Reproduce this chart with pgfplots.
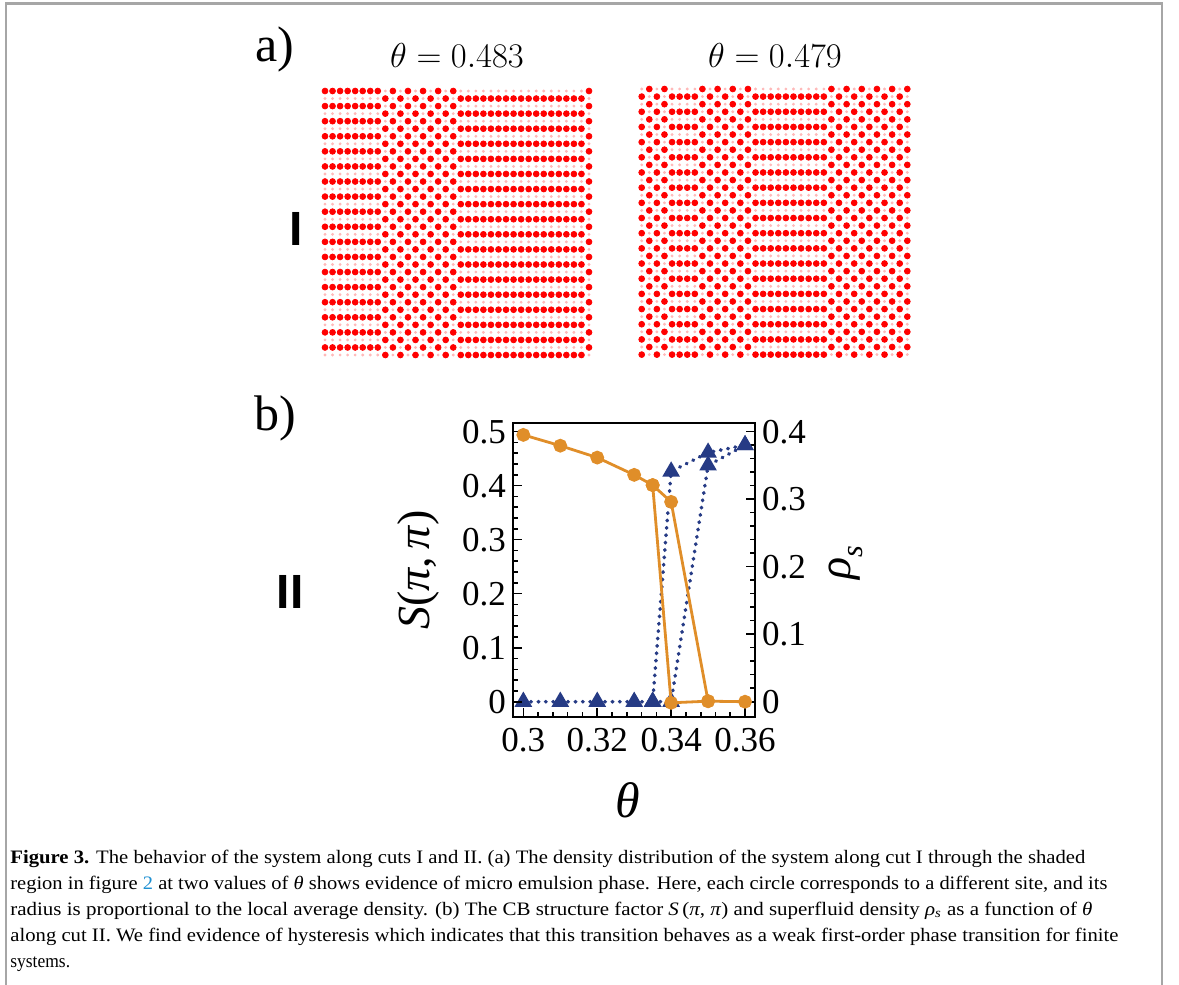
\documentclass[border=0pt]{standalone}
\usepackage{fontspec}
\setmainfont{Liberation Serif}
\newfontfamily\labsans{Liberation Sans}
\usepackage{graphicx}
\usepackage{pgfplots}
\usepackage{pgfplotstable}
\pgfplotsset{compat=1.18}

\definecolor{sorange}{RGB}{224,142,41}
\definecolor{rblue}{RGB}{38,59,133}
\definecolor{linkblue}{RGB}{30,144,210}
\definecolor{faint}{RGB}{255,185,185}
\definecolor{sitered}{RGB}{255,0,0}

% site occupation (1 = large local density, 0 = small), rows top to bottom, theta = 0.483
\pgfplotstableread[header=false]{
1 1 1 1 1 1 1 1 0 1 0 1 0 1 0 1 0 1 0 0 0 0 0 0 0 0 0 0 0 0 0 0 0 0 0 1
0 0 0 0 0 0 0 0 1 0 1 0 1 0 1 0 1 0 1 1 1 1 1 1 1 1 1 1 1 1 1 1 1 1 1 0
1 1 1 1 1 1 1 1 0 1 0 1 0 1 0 1 0 1 0 0 0 0 0 0 0 0 0 0 0 0 0 0 0 0 0 1
0 0 0 0 0 0 0 0 1 0 1 0 1 0 1 0 1 0 1 1 1 1 1 1 1 1 1 1 1 1 1 1 1 1 1 0
1 1 1 1 1 1 1 1 0 1 0 1 0 1 0 1 0 1 0 0 0 0 0 0 0 0 0 0 0 0 0 0 0 0 0 1
0 0 0 0 0 0 0 0 1 0 1 0 1 0 1 0 1 0 1 1 1 1 1 1 1 1 1 1 1 1 1 1 1 1 1 0
1 1 1 1 1 1 1 1 0 1 0 1 0 1 0 1 0 1 0 0 0 0 0 0 0 0 0 0 0 0 0 0 0 0 0 1
0 0 0 0 0 0 0 0 1 0 1 0 1 0 1 0 1 0 1 1 1 1 1 1 1 1 1 1 1 1 1 1 1 1 1 0
1 1 1 1 1 1 1 1 0 1 0 1 0 1 0 1 0 1 0 0 0 0 0 0 0 0 0 0 0 0 0 0 0 0 0 1
0 0 0 0 0 0 0 0 1 0 1 0 1 0 1 0 1 0 1 1 1 1 1 1 1 1 1 1 1 1 1 1 1 1 1 0
1 1 1 1 1 1 1 1 0 1 0 1 0 1 0 1 0 1 0 0 0 0 0 0 0 0 0 0 0 0 0 0 0 0 0 1
0 0 0 0 0 0 0 0 1 0 1 0 1 0 1 0 1 0 1 1 1 1 1 1 1 1 1 1 1 1 1 1 1 1 1 0
1 1 1 1 1 1 1 1 0 1 0 1 0 1 0 1 0 1 0 0 0 0 0 0 0 0 0 0 0 0 0 0 0 0 0 1
0 0 0 0 0 0 0 0 1 0 1 0 1 0 1 0 1 0 1 1 1 1 1 1 1 1 1 1 1 1 1 1 1 1 1 0
1 1 1 1 1 1 1 1 0 1 0 1 0 1 0 1 0 1 0 0 0 0 0 0 0 0 0 0 0 0 0 0 0 0 0 1
0 0 0 0 0 0 0 0 1 0 1 0 1 0 1 0 1 0 1 1 1 1 1 1 1 1 1 1 1 1 1 1 1 1 1 0
1 1 1 1 1 1 1 1 0 1 0 1 0 1 0 1 0 1 0 0 0 0 0 0 0 0 0 0 0 0 0 0 0 0 0 1
0 0 0 0 0 0 0 0 1 0 1 0 1 0 1 0 1 0 1 1 1 1 1 1 1 1 1 1 1 1 1 1 1 1 1 0
1 1 1 1 1 1 1 1 0 1 0 1 0 1 0 1 0 1 0 0 0 0 0 0 0 0 0 0 0 0 0 0 0 0 0 1
0 0 0 0 0 0 0 0 1 0 1 0 1 0 1 0 1 0 1 1 1 1 1 1 1 1 1 1 1 1 1 1 1 1 1 0
1 1 1 1 1 1 1 1 0 1 0 1 0 1 0 1 0 1 0 0 0 0 0 0 0 0 0 0 0 0 0 0 0 0 0 1
0 0 0 0 0 0 0 0 1 0 1 0 1 0 1 0 1 0 1 1 1 1 1 1 1 1 1 1 1 1 1 1 1 1 1 0
1 1 1 1 1 1 1 1 0 1 0 1 0 1 0 1 0 1 0 0 0 0 0 0 0 0 0 0 0 0 0 0 0 0 0 1
0 0 0 0 0 0 0 0 1 0 1 0 1 0 1 0 1 0 1 1 1 1 1 1 1 1 1 1 1 1 1 1 1 1 1 0
1 1 1 1 1 1 1 1 0 1 0 1 0 1 0 1 0 1 0 0 0 0 0 0 0 0 0 0 0 0 0 0 0 0 0 1
0 0 0 0 0 0 0 0 1 0 1 0 1 0 1 0 1 0 1 1 1 1 1 1 1 1 1 1 1 1 1 1 1 1 1 0
1 1 1 1 1 1 1 1 0 1 0 1 0 1 0 1 0 1 0 0 0 0 0 0 0 0 0 0 0 0 0 0 0 0 0 1
0 0 0 0 0 0 0 0 1 0 1 0 1 0 1 0 1 0 1 1 1 1 1 1 1 1 1 1 1 1 1 1 1 1 1 0
1 1 1 1 1 1 1 1 0 1 0 1 0 1 0 1 0 1 0 0 0 0 0 0 0 0 0 0 0 0 0 0 0 0 0 1
0 0 0 0 0 0 0 0 1 0 1 0 1 0 1 0 1 0 1 1 1 1 1 1 1 1 1 1 1 1 1 1 1 1 1 0
1 1 1 1 1 1 1 1 0 1 0 1 0 1 0 1 0 1 0 0 0 0 0 0 0 0 0 0 0 0 0 0 0 0 0 1
0 0 0 0 0 0 0 0 1 0 1 0 1 0 1 0 1 0 1 1 1 1 1 1 1 1 1 1 1 1 1 1 1 1 1 0
1 1 1 1 1 1 1 1 0 1 0 1 0 1 0 1 0 1 0 0 0 0 0 0 0 0 0 0 0 0 0 0 0 0 0 1
0 0 0 0 0 0 0 0 1 0 1 0 1 0 1 0 1 0 1 1 1 1 1 1 1 1 1 1 1 1 1 1 1 1 1 0
1 1 1 1 1 1 1 1 0 1 0 1 0 1 0 1 0 1 0 0 0 0 0 0 0 0 0 0 0 0 0 0 0 0 0 1
0 0 0 0 0 0 0 0 1 0 1 0 1 0 1 0 1 0 1 1 1 1 1 1 1 1 1 1 1 1 1 1 1 1 1 0
}\gridL

% theta = 0.479
\pgfplotstableread[header=false]{
0 1 0 1 0 0 0 0 1 0 1 0 1 0 1 0 0 0 0 0 0 0 0 0 0 1 0 1 0 1 0 1 0 1 0 1
1 0 1 0 1 1 1 1 0 1 0 1 0 1 0 1 1 1 1 1 1 1 1 1 1 0 1 0 1 0 1 0 1 0 1 0
0 1 0 1 0 0 0 0 1 0 1 0 1 0 1 0 0 0 0 0 0 0 0 0 0 1 0 1 0 1 0 1 0 1 0 1
1 0 1 0 1 1 1 1 0 1 0 1 0 1 0 1 1 1 1 1 1 1 1 1 1 0 1 0 1 0 1 0 1 0 1 0
0 1 0 1 0 0 0 0 1 0 1 0 1 0 1 0 0 0 0 0 0 0 0 0 0 1 0 1 0 1 0 1 0 1 0 1
1 0 1 0 1 1 1 1 0 1 0 1 0 1 0 1 1 1 1 1 1 1 1 1 1 0 1 0 1 0 1 0 1 0 1 0
0 1 0 1 0 0 0 0 1 0 1 0 1 0 1 0 0 0 0 0 0 0 0 0 0 1 0 1 0 1 0 1 0 1 0 1
1 0 1 0 1 1 1 1 0 1 0 1 0 1 0 1 1 1 1 1 1 1 1 1 1 0 1 0 1 0 1 0 1 0 1 0
0 1 0 1 0 0 0 0 1 0 1 0 1 0 1 0 0 0 0 0 0 0 0 0 0 1 0 1 0 1 0 1 0 1 0 1
1 0 1 0 1 1 1 1 0 1 0 1 0 1 0 1 1 1 1 1 1 1 1 1 1 0 1 0 1 0 1 0 1 0 1 0
0 1 0 1 0 0 0 0 1 0 1 0 1 0 1 0 0 0 0 0 0 0 0 0 0 1 0 1 0 1 0 1 0 1 0 1
1 0 1 0 1 1 1 1 0 1 0 1 0 1 0 1 1 1 1 1 1 1 1 1 1 0 1 0 1 0 1 0 1 0 1 0
0 1 0 1 0 0 0 0 1 0 1 0 1 0 1 0 0 0 0 0 0 0 0 0 0 1 0 1 0 1 0 1 0 1 0 1
1 0 1 0 1 1 1 1 0 1 0 1 0 1 0 1 1 1 1 1 1 1 1 1 1 0 1 0 1 0 1 0 1 0 1 0
0 1 0 1 0 0 0 0 1 0 1 0 1 0 1 0 0 0 0 0 0 0 0 0 0 1 0 1 0 1 0 1 0 1 0 1
1 0 1 0 1 1 1 1 0 1 0 1 0 1 0 1 1 1 1 1 1 1 1 1 1 0 1 0 1 0 1 0 1 0 1 0
0 1 0 1 0 0 0 0 1 0 1 0 1 0 1 0 0 0 0 0 0 0 0 0 0 1 0 1 0 1 0 1 0 1 0 1
1 0 1 0 1 1 1 1 0 1 0 1 0 1 0 1 1 1 1 1 1 1 1 1 1 0 1 0 1 0 1 0 1 0 1 0
0 1 0 1 0 0 0 0 1 0 1 0 1 0 1 0 0 0 0 0 0 0 0 0 0 1 0 1 0 1 0 1 0 1 0 1
1 0 1 0 1 1 1 1 0 1 0 1 0 1 0 1 1 1 1 1 1 1 1 1 1 0 1 0 1 0 1 0 1 0 1 0
0 1 0 1 0 0 0 0 1 0 1 0 1 0 1 0 0 0 0 0 0 0 0 0 0 1 0 1 0 1 0 1 0 1 0 1
1 0 1 0 1 1 1 1 0 1 0 1 0 1 0 1 1 1 1 1 1 1 1 1 1 0 1 0 1 0 1 0 1 0 1 0
0 1 0 1 0 0 0 0 1 0 1 0 1 0 1 0 0 0 0 0 0 0 0 0 0 1 0 1 0 1 0 1 0 1 0 1
1 0 1 0 1 1 1 1 0 1 0 1 0 1 0 1 1 1 1 1 1 1 1 1 1 0 1 0 1 0 1 0 1 0 1 0
0 1 0 1 0 0 0 0 1 0 1 0 1 0 1 0 0 0 0 0 0 0 0 0 0 1 0 1 0 1 0 1 0 1 0 1
1 0 1 0 1 1 1 1 0 1 0 1 0 1 0 1 1 1 1 1 1 1 1 1 1 0 1 0 1 0 1 0 1 0 1 0
0 1 0 1 0 0 0 0 1 0 1 0 1 0 1 0 0 0 0 0 0 0 0 0 0 1 0 1 0 1 0 1 0 1 0 1
1 0 1 0 1 1 1 1 0 1 0 1 0 1 0 1 1 1 1 1 1 1 1 1 1 0 1 0 1 0 1 0 1 0 1 0
0 1 0 1 0 0 0 0 1 0 1 0 1 0 1 0 0 0 0 0 0 0 0 0 0 1 0 1 0 1 0 1 0 1 0 1
1 0 1 0 1 1 1 1 0 1 0 1 0 1 0 1 1 1 1 1 1 1 1 1 1 0 1 0 1 0 1 0 1 0 1 0
0 1 0 1 0 0 0 0 1 0 1 0 1 0 1 0 0 0 0 0 0 0 0 0 0 1 0 1 0 1 0 1 0 1 0 1
1 0 1 0 1 1 1 1 0 1 0 1 0 1 0 1 1 1 1 1 1 1 1 1 1 0 1 0 1 0 1 0 1 0 1 0
0 1 0 1 0 0 0 0 1 0 1 0 1 0 1 0 0 0 0 0 0 0 0 0 0 1 0 1 0 1 0 1 0 1 0 1
1 0 1 0 1 1 1 1 0 1 0 1 0 1 0 1 1 1 1 1 1 1 1 1 1 0 1 0 1 0 1 0 1 0 1 0
0 1 0 1 0 0 0 0 1 0 1 0 1 0 1 0 0 0 0 0 0 0 0 0 0 1 0 1 0 1 0 1 0 1 0 1
1 0 1 0 1 1 1 1 0 1 0 1 0 1 0 1 1 1 1 1 1 1 1 1 1 0 1 0 1 0 1 0 1 0 1 0
}\gridR

\pgfplotsset{
  gridax/.style={scale only axis, anchor=south west, hide axis, clip=false,
    xmin=0, xmax=35, ymin=-35, ymax=0},
  site/.style={scatter, only marks, point meta=explicit symbolic,
    scatter/classes={
      1={mark=*, mark size=1.45pt, sitered},
      0={mark=*, mark size=0.5pt, faint}}},
  mainax/.style={scale only axis, anchor=south west, width=121pt, height=147pt,
    at={(256.5pt,-358.5pt)}, xmin=0.2972, xmax=0.3627,
    axis line style={line width=1.2pt},
    major tick length=4.5pt, minor tick length=2.5pt,
    every tick/.style={black, line width=0.8pt},
    tick label style={font=\fontsize{17.5}{20}\selectfont},
    /pgf/number format/assume math mode=true,
    /pgf/number format/fixed, clip=false},
  bluedot/.style={rblue, line width=1.8pt, dash pattern=on 0.3pt off 3.4pt, line cap=round,
    mark=triangle*, mark size=3.3pt, mark options={solid, fill=rblue, draw=rblue}},
  orangeline/.style={sorange, line width=1.4pt, mark=*, mark size=2.75pt,
    mark options={fill=sorange, draw=sorange}},
}

\begin{document}
\begin{tikzpicture}
\useasboundingbox (0,0) rectangle (589.5pt,-492.5pt);

% --- density lattices ---
\begin{axis}[gridax, width=132pt, height=132pt, at={(162.5pt,-177.5pt)}]
\pgfplotsinvokeforeach{0,...,35}{
  \addplot[site] table[x expr=#1, y expr=-\coordindex, meta index=#1] {\gridL};
}
\end{axis}
\begin{axis}[gridax, width=132.8pt, height=132.8pt, at={(320.85pt,-177.3pt)}]
\pgfplotsinvokeforeach{0,...,35}{
  \addplot[site] table[x expr=#1, y expr=-\coordindex, meta index=#1] {\gridR};
}
\end{axis}

% --- panel b: right scale (rho_s) ---
\begin{axis}[mainax, ymin=-0.02267, ymax=0.4128,
  axis x line=none, axis y line*=right,
  ytick={0,0.1,0.2,0.3,0.4}, minor y tick num=4, ytick pos=right]
\addplot[bluedot]
  coordinates {(0.30,0)(0.31,0)(0.32,0)(0.33,0)(0.335,0)(0.34,0.341)(0.35,0.369)(0.36,0.380)};
\addplot[bluedot]
  coordinates {(0.335,0)(0.34,0)(0.35,0.350)(0.36,0.380)};
\end{axis}

% --- panel b: left scale S(pi,pi) ---
\begin{axis}[mainax, ymin=-0.0283, ymax=0.516,
  xtick={0.3,0.32,0.34,0.36}, minor x tick num=4, xtick pos=left,
  xticklabel style={yshift=-2pt},
  ytick={0,0.1,0.2,0.3,0.4,0.5}, minor y tick num=4, ytick pos=left]
\addplot[orangeline]
  coordinates {(0.30,0.494)(0.31,0.474)(0.32,0.452)(0.33,0.420)(0.335,0.401)(0.34,0.370)(0.35,0.001)(0.36,0.0)};
\addplot[orangeline]
  coordinates {(0.335,0.401)(0.34,-0.002)(0.35,0.001)};
\end{axis}

% --- text and frame, in pixel units ---
\begin{scope}[x=0.5pt, y=-0.5pt]
\draw[gray!70, line width=1.2pt] (6,985) -- (6,3.5) -- (1162,3.5) -- (1162,985);
\node at (275,49) {\fontsize{25}{30}\selectfont a)};
\node at (275,418) {\fontsize{25}{30}\selectfont b)};
\node at (457,55) {\fontsize{18}{20}\selectfont $\theta = 0.483$};
\node at (775,55) {\fontsize{18}{20}\selectfont $\theta = 0.479$};
\node at (296,229) {\labsans\bfseries\fontsize{24}{28}\selectfont I};
\node at (290,592) {\labsans\bfseries\fontsize{24}{28}\selectfont II};
\node[rotate=90] at (418,570) {\fontsize{23}{26}\selectfont \textit{S}(\textit{π},\,\textit{π})};
\node[rotate=90] at (846,563) {\fontsize{23}{26}\selectfont \textit{ρ}\raisebox{-0.25em}{\fontsize{15}{16}\selectfont\textit{s}}};
\node at (628,800) {\fontsize{25}{28}\selectfont \textit{θ}};

\node[anchor=base west, inner sep=0] at (10,863) {\resizebox{537.5pt}{\height}{\fontsize{9.5}{11}\selectfont \textbf{Figure 3.} The behavior of the system along cuts I and II. (a) The density distribution of the system along cut I through the shaded}};
\node[anchor=base west, inner sep=0] at (10,889) {\resizebox{548.5pt}{\height}{\fontsize{9.5}{11}\selectfont region in figure \textcolor{linkblue}{2} at two values of \textit{θ} shows evidence of micro emulsion phase. Here, each circle corresponds to a different site, and its}};
\node[anchor=base west, inner sep=0] at (10,915) {\resizebox{541pt}{\height}{\fontsize{9.5}{11}\selectfont radius is proportional to the local average density. (b) The CB structure factor \textit{S}\,(\textit{π}, \textit{π}) and superfluid density \textit{ρ}\textsubscript{\textit{s}} as a function of \textit{θ}}};
\node[anchor=base west, inner sep=0] at (10,941) {\resizebox{554pt}{\height}{\fontsize{9.5}{11}\selectfont along cut II. We find evidence of hysteresis which indicates that this transition behaves as a weak first-order phase transition for finite}};
\node[anchor=base west, inner sep=0] at (10,967) {\scalebox{0.92}[1]{\fontsize{9.5}{11}\selectfont systems.}};
\end{scope}
\end{tikzpicture}
\end{document}
